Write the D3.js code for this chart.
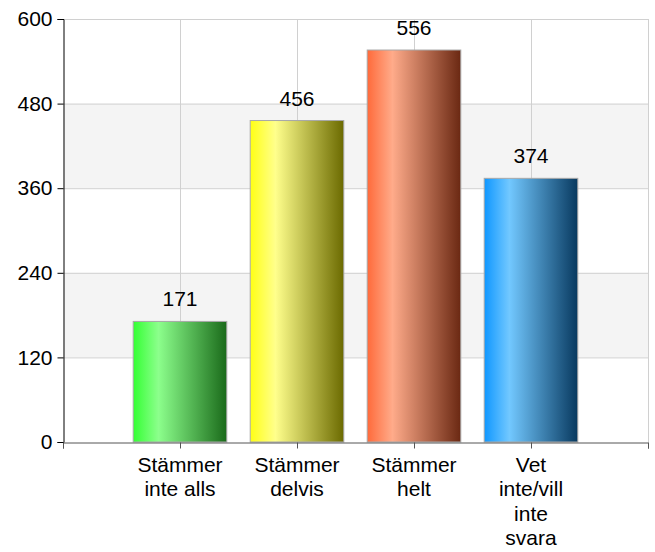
<!DOCTYPE html>
<html><head><meta charset="utf-8">
<script src="https://cdn.jsdelivr.net/npm/d3@7"></script>
<style>body{margin:0;background:#fff}svg{display:block}text{font-family:Arial,"Liberation Sans",sans-serif;fill:#000}</style>
</head><body>
<svg id="c" width="655" height="552"></svg>
<script>
const categories = [["Stämmer","inte alls"],["Stämmer","delvis"],["Stämmer","helt"],["Vet","inte/vill","inte","svara"]];
const values = [171, 456, 556, 374];
const yTicks = [0, 120, 240, 360, 480, 600];
const gradients = [
  ["#33ff33","#8cff8c","#1a6a1a"],
  ["#ffff14","#ffff8c","#6b6a00"],
  ["#ff6a3a","#ffab8a","#6a2812"],
  ["#0f97ff","#72c8ff","#08395f"]
];

const svg = d3.select("#c");
const L = 63, R = 648, T = 19, B = 442;
const x = d3.scaleLinear().domain([0, categories.length + 1]).range([L, R]);
const y = d3.scaleLinear().domain([0, 600]).range([B, T]);
const bw = (x(1) - x(0)) * 0.8;
const FS = "21px";

const defs = svg.append("defs");
gradients.forEach((g, i) => {
  const lg = defs.append("linearGradient").attr("id", "g" + i).attr("x1", "0").attr("x2", "1").attr("y1", "0").attr("y2", "0");
  lg.append("stop").attr("offset", "0").attr("stop-color", g[0]);
  lg.append("stop").attr("offset", "0.27").attr("stop-color", g[1]);
  lg.append("stop").attr("offset", "1").attr("stop-color", g[2]);
});

// alternating bands
for (let i = 0; i < yTicks.length - 1; i++) {
  if (i % 2 === 1) {
    svg.append("rect").attr("x", L).attr("width", R - L)
      .attr("y", y(yTicks[i + 1])).attr("height", y(yTicks[i]) - y(yTicks[i + 1]))
      .attr("fill", "#f4f4f4");
  }
}
// horizontal grid
svg.append("g").selectAll("line").data(yTicks.slice(1)).join("line")
  .attr("x1", L).attr("x2", R).attr("y1", d => y(d) + 0.5).attr("y2", d => y(d) + 0.5)
  .attr("stroke", "#d0d0d0");
// vertical grid
svg.append("g").selectAll("line").data(d3.range(1, categories.length + 2)).join("line")
  .attr("x1", d => Math.round(x(d)) + 0.5).attr("x2", d => Math.round(x(d)) + 0.5).attr("y1", T).attr("y2", B)
  .attr("stroke", "#d0d0d0");

// bars
svg.append("g").selectAll("rect").data(values).join("rect")
  .attr("x", (d, i) => x(i + 1) - bw / 2).attr("width", bw)
  .attr("y", d => y(d)).attr("height", d => B - y(d))
  .attr("fill", (d, i) => `url(#g${i})`).attr("stroke", "#a8a8a8").attr("stroke-width", 1);

// value labels
svg.append("g").selectAll("text").data(values).join("text")
  .attr("x", (d, i) => x(i + 1)).attr("y", d => y(d) - 15)
  .attr("text-anchor", "middle").style("font-size", FS).text(d => d);

// y axis
const yAxis = d3.axisLeft(y).tickValues(yTicks).tickSize(6).tickPadding(5);
const ya = svg.append("g").attr("transform", `translate(${L + 0.5},0)`).call(yAxis);
ya.select(".domain").attr("stroke", "#000");
ya.selectAll(".tick line").attr("stroke", "#000");
ya.selectAll(".tick text").style("font-size", FS).style("font-family", "Arial, 'Liberation Sans', sans-serif").attr("fill", "#000");

// x axis
const xAxis = d3.axisBottom(x).tickValues(d3.range(0, categories.length + 2)).tickSize(6).tickFormat("");
const xa = svg.append("g").attr("transform", `translate(0,${B + 0.5})`).call(xAxis);
xa.select(".domain").attr("stroke", "#555");
xa.selectAll(".tick line").attr("stroke", "#555");

// x labels
const xl = svg.append("g").selectAll("text").data(categories).join("text")
  .attr("text-anchor", "middle").style("font-size", FS)
  .attr("transform", (d, i) => `translate(${x(i + 1)},0)`);
xl.selectAll("tspan").data(d => d).join("tspan")
  .attr("x", 0).attr("y", (d, j) => 472 + j * 24.3).text(d => d);
</script>
</body></html>
